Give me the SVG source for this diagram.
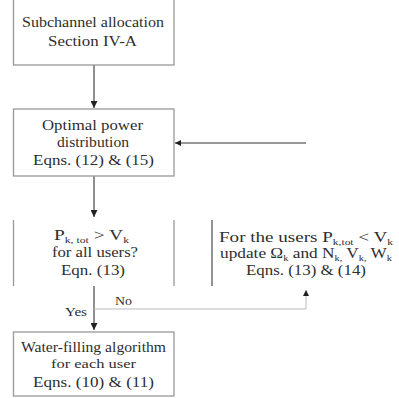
<svg xmlns="http://www.w3.org/2000/svg" width="399" height="398" viewBox="0 0 399 398">
<style>
.box{fill:#fff;stroke:#999;stroke-width:1.3}
.side{stroke:#999;stroke-width:1.3;fill:none}
.dk{stroke:#666;stroke-width:1.4;fill:none}
.t{font-family:"Liberation Serif","Times New Roman",serif;font-size:15px;fill:#2e2e2e}
.s{font-size:9px}
.c{text-anchor:middle}
.ln{stroke:#333;stroke-width:1.1;fill:none}
.lg{stroke:#bbb;stroke-width:1;fill:none}
</style>
<defs>
<marker id="ah" viewBox="0 0 10 10" refX="10" refY="5" markerWidth="10" markerHeight="7" orient="auto" markerUnits="userSpaceOnUse">
<path d="M0,0 L10,5 L0,10 z" fill="#222"/>
</marker>
<marker id="ahs" viewBox="0 0 10 10" refX="10" refY="5" markerWidth="7" markerHeight="6" orient="auto" markerUnits="userSpaceOnUse">
<path d="M0,0 L10,5 L0,10 z" fill="#222"/>
</marker>
</defs>
<rect width="399" height="398" fill="#fff"/>
<g id="connectors">
<line class="ln" x1="94" y1="65" x2="94" y2="108" marker-end="url(#ah)"/>
<line class="ln" x1="94" y1="176" x2="94" y2="217" marker-end="url(#ah)"/>
<line class="ln" x1="94" y1="286" x2="94" y2="330" marker-end="url(#ah)"/>
<line class="ln" x1="306" y1="143" x2="175" y2="143" stroke="#666" marker-end="url(#ahs)"/>
<polyline class="lg" points="94,309 306,309 306,290" marker-end="url(#ahs)"/>
<text class="t" x="115" y="305" textLength="17" lengthAdjust="spacingAndGlyphs" style="font-size:13px">No</text>
<text class="t" x="65" y="316" textLength="22" lengthAdjust="spacingAndGlyphs" style="font-size:13px">Yes</text>
</g>
<g id="n1">
<rect class="box" x="13.5" y="-2" width="160.5" height="67"/>
<text class="t c" x="93" y="27" textLength="142" lengthAdjust="spacingAndGlyphs">Subchannel allocation</text>
<text class="t c" x="92.5" y="46" textLength="89" lengthAdjust="spacingAndGlyphs">Section IV-A</text>
</g>
<g id="n2">
<rect class="box" x="13.5" y="109" width="160.5" height="67"/>
<text class="t c" x="92.5" y="130" textLength="101" lengthAdjust="spacingAndGlyphs">Optimal power</text>
<text class="t c" x="93" y="147" textLength="72" lengthAdjust="spacingAndGlyphs">distribution</text>
<text class="t c" x="93.5" y="165" textLength="121" lengthAdjust="spacingAndGlyphs">Eqns. (12) &amp; (15)</text>
</g>
<g id="n3">
<line class="side" x1="13.5" y1="220" x2="13.5" y2="286"/>
<line class="side" x1="174" y1="220" x2="174" y2="286"/>
<text class="t" x="54" y="240" textLength="75" lengthAdjust="spacingAndGlyphs">P<tspan class="s" dy="3">k, tot</tspan><tspan dy="-3"> &gt; V</tspan><tspan class="s" dy="3">k</tspan></text>
<text class="t c" x="95" y="257" textLength="86" lengthAdjust="spacingAndGlyphs">for all users?</text>
<text class="t c" x="93" y="275" textLength="64" lengthAdjust="spacingAndGlyphs">Eqn. (13)</text>
</g>
<g id="n4">
<line class="dk" x1="212" y1="220" x2="212" y2="286"/>
<text class="t" x="219" y="242" textLength="174" lengthAdjust="spacingAndGlyphs">For the users  P<tspan class="s" dy="3">k,tot</tspan><tspan dy="-3">  &lt; V</tspan><tspan class="s" dy="3">k</tspan></text>
<text class="t" x="220" y="258" textLength="172" lengthAdjust="spacingAndGlyphs">update Ω<tspan class="s" dy="3">k</tspan><tspan dy="-3">  and N</tspan><tspan class="s" dy="3">k,</tspan><tspan dy="-3"> V</tspan><tspan class="s" dy="3">k,</tspan><tspan dy="-3"> W</tspan><tspan class="s" dy="3">k</tspan></text>
<text class="t c" x="306" y="275" textLength="120" lengthAdjust="spacingAndGlyphs">Eqns. (13) &amp; (14)</text>
</g>
<g id="n5">
<rect class="box" x="13.5" y="332" width="160.5" height="64"/>
<text class="t c" x="93.5" y="352" textLength="145" lengthAdjust="spacingAndGlyphs">Water-filling algorithm</text>
<text class="t c" x="93.5" y="368" textLength="85" lengthAdjust="spacingAndGlyphs" style="font-size:13px">for each user</text>
<text class="t c" x="93.5" y="387" textLength="121" lengthAdjust="spacingAndGlyphs">Eqns. (10) &amp; (11)</text>
</g>
</svg>
